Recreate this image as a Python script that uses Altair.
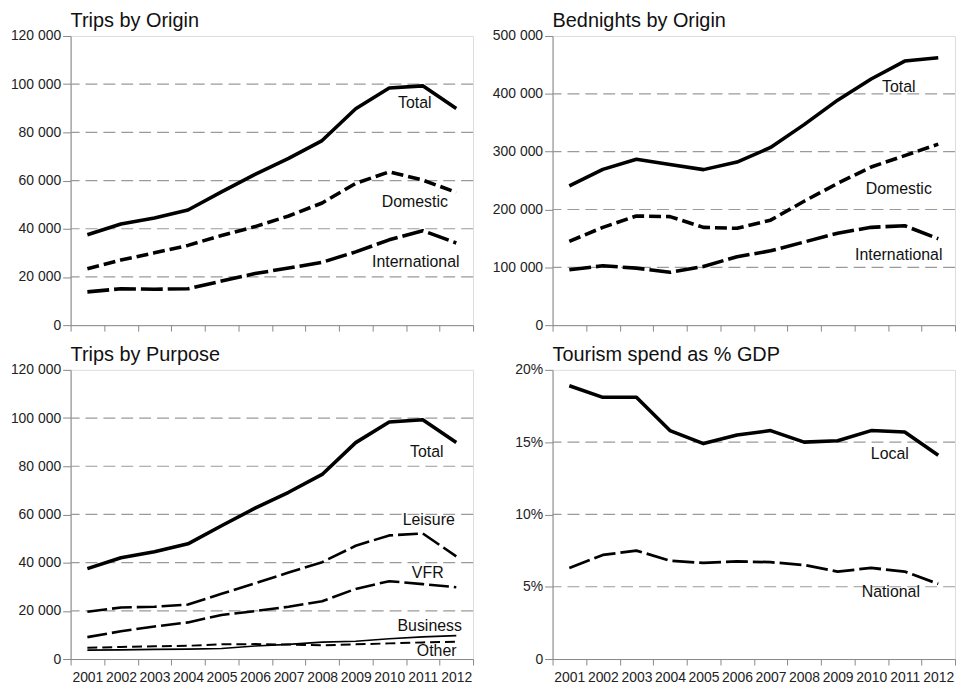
import altair as alt
import pandas as pd

years = [str(y) for y in range(2001, 2013)]

# Trips by Origin
trips_total = [37500, 42000, 44500, 47800, 55300, 62600, 69200, 76600, 89800, 98400, 99300, 89900]
trips_domestic = [23400, 27000, 30000, 33100, 37200, 40900, 45300, 50700, 58800, 63600, 60200, 55100]
trips_international = [13800, 15100, 14900, 15100, 18300, 21400, 23700, 26100, 30400, 35400, 39200, 34100]

# Bednights by Origin
bed_total = [240700, 269400, 286900, 277900, 268900, 281900, 307200, 346700, 389000, 425600, 456600, 462200]
bed_domestic = [144900, 169100, 188800, 187700, 169100, 167400, 181500, 214200, 245200, 273400, 293100, 312900]
bed_international = [95800, 102600, 98600, 91300, 101500, 118400, 128500, 143700, 159000, 169100, 171900, 149400]

# Trips by Purpose
purpose_leisure = [19600, 21400, 21700, 22600, 27100, 31400, 35900, 40200, 47000, 51300, 52100, 42600]
purpose_vfr = [9100, 11500, 13500, 15200, 18300, 19900, 21700, 24000, 29100, 32300, 31100, 29800]
purpose_business = [3700, 3800, 4000, 4100, 4400, 5400, 6100, 7000, 7400, 8400, 9200, 9700]
purpose_other = [4700, 5000, 5300, 5500, 6100, 6200, 6000, 5700, 6100, 6500, 6900, 7200]

# Tourism spend as % GDP
gdp_local = [18.9, 18.1, 18.1, 15.8, 14.9, 15.5, 15.8, 15.0, 15.1, 15.8, 15.7, 14.1]
gdp_national = [6.3, 7.2, 7.5, 6.8, 6.65, 6.75, 6.7, 6.5, 6.05, 6.3, 6.05, 5.2]

# label anchors (text, year, value in data units)
labels_origin = [("Total", "2011", 92000), ("Domestic", "2011", 51000), ("International", "2011", 26000)]
labels_bed = [("Total", "2011", 412000), ("Domestic", "2011", 235000), ("International", "2011", 122000)]
labels_purpose = [("Total", "2011", 86000), ("Leisure", "2011", 57500), ("VFR", "2011", 35500),
                  ("Business", "2011", 13800), ("Other", "2011", 3300)]
labels_gdp = [("Local", "2011", 14.2), ("National", "2011", 4.6)]

AX_FONT = "Liberation Sans, Arial, sans-serif"
TXT_FONT = "Liberation Sans, Arial, sans-serif"
W, H = 405, 291

STYLE = {
    "Total": (None, 3.6),
    "Domestic": ([12, 5], 3.6),
    "International": ([22, 5], 3.6),
    "Leisure": ([20, 5], 2.6),
    "VFR": ([20, 5], 2.6),
    "Business": (None, 1.6),
    "Other": ([10, 5], 2.0),
    "Local": (None, 3.6),
    "National": ([22, 5], 2.8),
}


def panel(title, series, ymax, ystep, labels, pct, show_x, label_dx):
    ticks = list(range(0, ymax + 1, ystep))
    grid_vals = ticks[1:-1]
    if pct:
        lexpr = "datum.value == 0 ? '0' : datum.value + '%'"
    else:
        lexpr = "replace(format(datum.value, ','), ',', ' ')"
    xenc = alt.X("year:O",
                 scale=alt.Scale(type="band", paddingInner=0, paddingOuter=0),
                 axis=alt.Axis(title=None, tickBand="extent", labels=show_x, labelAngle=0,
                               tickSize=6, labelPadding=6, labelFont=AX_FONT, labelFontSize=14,
                               labelColor="#222"))
    yenc = alt.Y("value:Q", scale=alt.Scale(domain=[0, ymax], nice=False),
                 axis=alt.Axis(title=None, values=ticks, labelExpr=lexpr, grid=False,
                               tickSize=8, labelPadding=2, labelFont=AX_FONT, labelFontSize=14,
                               labelColor="#222"))
    grid = alt.Chart(pd.DataFrame({"value": grid_vals})).mark_rule(
        color="#9a9a9a", strokeDash=[12, 6], strokeWidth=1.2).encode(y=yenc)
    layers = [grid]
    for name, vals in series:
        dash, sw = STYLE[name]
        kw = dict(color="black", strokeWidth=sw, strokeJoin="round")
        if dash:
            kw["strokeDash"] = dash
        df = pd.DataFrame({"year": years, "value": vals})
        layers.append(alt.Chart(df).mark_line(**kw).encode(x=xenc, y=yenc))
    for (lab, yr, val) in labels:
        t = alt.Chart(pd.DataFrame({"year": [yr], "value": [val], "label": [lab]})).mark_text(
            font=TXT_FONT, fontSize=16, align="center", baseline="middle", color="#111",
            dx=label_dx.get(lab, 0)).encode(x=xenc, y=yenc, text="label:N")
        layers.append(t)
    return alt.layer(*layers).properties(
        width=W, height=H,
        title=alt.TitleParams(title, anchor="start", frame="group", fontSize=20, font=TXT_FONT,
                              fontWeight="normal", offset=-2, color="#111"))


p1 = panel("Trips by Origin",
           [("Total", trips_total), ("Domestic", trips_domestic), ("International", trips_international)],
           120000, 20000, labels_origin, False, False,
           {"Total": -8, "Domestic": -8, "International": -7})
p2 = panel("Bednights by Origin",
           [("Total", bed_total), ("Domestic", bed_domestic), ("International", bed_international)],
           500000, 100000, labels_bed, False, False,
           {"Total": -6, "Domestic": -6, "International": -6})
p3 = panel("Trips by Purpose",
           [("Total", trips_total), ("Leisure", purpose_leisure), ("VFR", purpose_vfr),
            ("Business", purpose_business), ("Other", purpose_other)],
           120000, 20000, labels_purpose, False, True,
           {"Total": 4, "Leisure": 6, "VFR": 5, "Business": 7, "Other": 14})
p4 = panel("Tourism spend as % GDP",
           [("Local", gdp_local), ("National", gdp_national)],
           20, 5, labels_gdp, True, True,
           {"Local": -15, "National": -14})

chart = alt.concat(
    p1, p2, p3, p4, columns=2,
    spacing={"row": 11, "column": 16},
).properties(
    padding={"left": 1, "top": 0, "right": 0, "bottom": 0}
).configure_view(
    stroke="black", strokeWidth=2
).configure_axis(
    domain=False, tickColor="black", tickWidth=1.5
).configure(background="white")

chart.save("out.html", embed_options={"renderer": "svg", "actions": False})
